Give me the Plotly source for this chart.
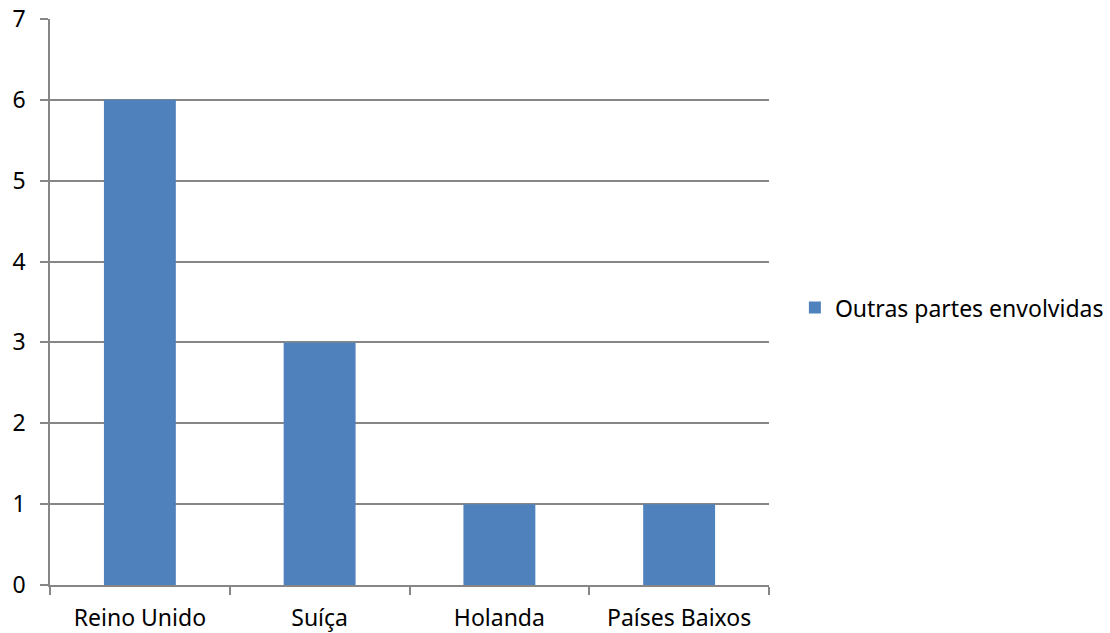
import plotly.graph_objects as go

# Countries and the number of other parties involved in each
countries = ["Reino Unido", "Suíça", "Holanda", "Países Baixos"]
outras_partes = [6, 3, 1, 1]
series_name = "Outras partes envolvidas"

FONT = "Noto Sans"
GRID = "#868686"

fig = go.Figure()
fig.add_trace(go.Bar(
    x=countries,
    y=outras_partes,
    name=series_name,
    marker=dict(color="#4F81BD", line=dict(width=0)),
    showlegend=True,
))

fig.update_layout(
    width=1110,
    height=633,
    margin=dict(l=50, r=341, t=19, b=48, autoexpand=False),
    paper_bgcolor="white",
    plot_bgcolor="white",
    font=dict(family=FONT, size=23, color="#000000"),
    bargap=0.6,
    showlegend=True,
    legend=dict(
        x=1.036, y=0.49, xanchor="left", yanchor="middle",
        font=dict(family=FONT, size=23, color="#000000"),
        bgcolor="rgba(0,0,0,0)",
        itemwidth=30,
    ),
    xaxis=dict(
        type="category",
        showgrid=False,
        showline=True,
        linecolor=GRID,
        linewidth=1.5,
        ticks="outside",
        tickson="boundaries",
        ticklen=8,
        tickcolor=GRID,
        tickwidth=1.5,
        ticklabelstandoff=12,
        zeroline=False,
    ),
    yaxis=dict(
        range=[0, 7],
        dtick=1,
        showgrid=True,
        gridcolor=GRID,
        gridwidth=1.5,
        showline=True,
        linecolor=GRID,
        linewidth=1.5,
        ticks="outside",
        ticklen=8,
        tickcolor=GRID,
        tickwidth=1.5,
        ticklabelstandoff=10,
        zeroline=False,
    ),
)

fig.write_html("out.html")
